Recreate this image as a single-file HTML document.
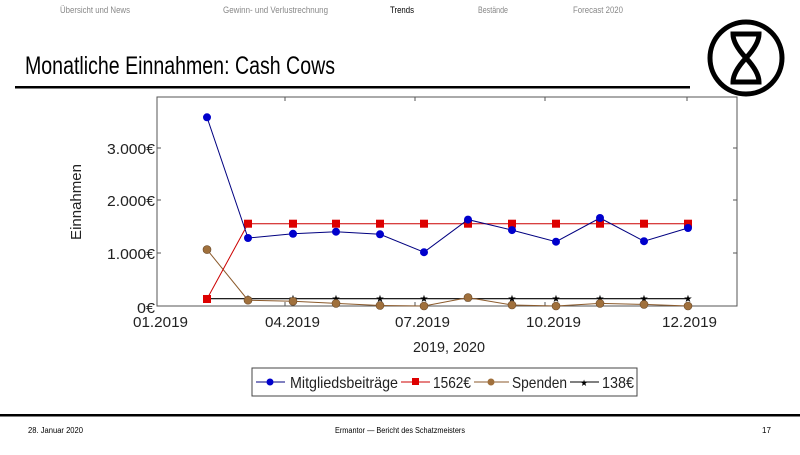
<!DOCTYPE html>
<html><head><meta charset="utf-8"><style>
body{margin:0;width:800px;height:450px;background:#fff;overflow:hidden;font-family:"Liberation Sans",sans-serif}
</style></head><body>
<svg width="800" height="450" viewBox="0 0 800 450" xmlns="http://www.w3.org/2000/svg" font-family="Liberation Sans, sans-serif">
<g font-size="9" fill="#888">
<text x="60" y="13" textLength="70" lengthAdjust="spacingAndGlyphs">Übersicht und News</text>
<text x="223" y="13" textLength="105" lengthAdjust="spacingAndGlyphs">Gewinn- und Verlustrechnung</text>
<text x="390" y="13" fill="#000" textLength="24" lengthAdjust="spacingAndGlyphs">Trends</text>
<text x="478" y="13" textLength="30" lengthAdjust="spacingAndGlyphs">Bestände</text>
<text x="573" y="13" textLength="50" lengthAdjust="spacingAndGlyphs">Forecast 2020</text>
</g>
<text x="25" y="74" font-size="25" fill="#000" textLength="310" lengthAdjust="spacingAndGlyphs">Monatliche Einnahmen: Cash Cows</text>
<rect x="15" y="86" width="675" height="2.5" fill="#000"/>
<circle cx="746" cy="58" r="36" fill="none" stroke="#000" stroke-width="5"/>
<path d="M733 34 L759 34 Q759 44 746 58 Q733 72 733 82 L759 82 Q759 72 746 58 Q733 44 733 34 Z" fill="none" stroke="#000" stroke-width="5"/>
<rect x="157" y="97" width="580" height="209" fill="none" stroke="#555" stroke-width="1"/>
<g stroke="#555" stroke-width="1">
<line x1="285" y1="97" x2="285" y2="101"/><line x1="415" y1="97" x2="415" y2="101"/><line x1="545" y1="97" x2="545" y2="101"/><line x1="687" y1="97" x2="687" y2="101"/>
<line x1="285" y1="306" x2="285" y2="302"/><line x1="415" y1="306" x2="415" y2="302"/><line x1="545" y1="306" x2="545" y2="302"/><line x1="687" y1="306" x2="687" y2="302"/>
<line x1="157" y1="148" x2="161" y2="148"/><line x1="157" y1="200" x2="161" y2="200"/><line x1="157" y1="253" x2="161" y2="253"/>
<line x1="737" y1="148" x2="733" y2="148"/><line x1="737" y1="200" x2="733" y2="200"/><line x1="737" y1="253" x2="733" y2="253"/>
</g>
<g font-size="15" fill="#222" text-anchor="end">
<text x="155" y="154" textLength="48" lengthAdjust="spacingAndGlyphs">3.000€</text><text x="155" y="206" textLength="48" lengthAdjust="spacingAndGlyphs">2.000€</text><text x="155" y="259" textLength="48" lengthAdjust="spacingAndGlyphs">1.000€</text><text x="155" y="313" textLength="18" lengthAdjust="spacingAndGlyphs">0€</text>
</g>
<g font-size="15" fill="#222">
<text x="133" y="327" textLength="55" lengthAdjust="spacingAndGlyphs">01.2019</text><text x="265" y="327" textLength="55" lengthAdjust="spacingAndGlyphs">04.2019</text><text x="395" y="327" textLength="55" lengthAdjust="spacingAndGlyphs">07.2019</text><text x="526" y="327" textLength="55" lengthAdjust="spacingAndGlyphs">10.2019</text><text x="662" y="327" textLength="55" lengthAdjust="spacingAndGlyphs">12.2019</text>
<text x="413" y="352" textLength="72" lengthAdjust="spacingAndGlyphs">2019, 2020</text>
</g>
<text transform="translate(81,202) rotate(-90)" font-size="15" fill="#222" text-anchor="middle">Einnahmen</text>
<polyline fill="none" stroke="#000" stroke-width="1.2" points="207,298.7 688,298.7"/>
<g font-size="10" text-anchor="middle" fill="#000">
<text x="207" y="302">★</text><text x="248" y="302">★</text><text x="293" y="302">★</text><text x="336" y="302">★</text><text x="380" y="302">★</text><text x="424" y="302">★</text><text x="468" y="302">★</text><text x="512" y="302">★</text><text x="556" y="302">★</text><text x="600" y="302">★</text><text x="644" y="302">★</text><text x="688" y="302">★</text>
</g>
<polyline fill="none" stroke="#8b5a2b" stroke-width="1" points="207,249.6 248,300.2 293,301.3 336,303.4 380,305.5 424,306 468,297.6 512,305 556,306 600,303.4 644,304.4 688,306"/>
<g fill="#a0703c" stroke="#6b4a2a" stroke-width="0.6">
<circle cx="207" cy="249.6" r="4"/><circle cx="248" cy="300.2" r="4"/><circle cx="293" cy="301.3" r="4"/><circle cx="336" cy="303.4" r="4"/><circle cx="380" cy="305.5" r="4"/><circle cx="424" cy="306" r="4"/><circle cx="468" cy="297.6" r="4"/><circle cx="512" cy="305" r="4"/><circle cx="556" cy="306" r="4"/><circle cx="600" cy="303.4" r="4"/><circle cx="644" cy="304.4" r="4"/><circle cx="688" cy="306" r="4"/>
</g>
<polyline fill="none" stroke="#cc0000" stroke-width="1" points="207,299 248,223.7 688,223.7"/>
<g fill="#dd0000">
<rect x="203" y="295" width="8" height="8"/><rect x="244" y="219.7" width="8" height="8"/><rect x="289" y="219.7" width="8" height="8"/><rect x="332" y="219.7" width="8" height="8"/><rect x="376" y="219.7" width="8" height="8"/><rect x="420" y="219.7" width="8" height="8"/><rect x="464" y="219.7" width="8" height="8"/><rect x="508" y="219.7" width="8" height="8"/><rect x="552" y="219.7" width="8" height="8"/><rect x="596" y="219.7" width="8" height="8"/><rect x="640" y="219.7" width="8" height="8"/><rect x="684" y="219.7" width="8" height="8"/>
</g>
<polyline fill="none" stroke="#000080" stroke-width="1" points="207,117.3 248,238 293,233.8 336,231.7 380,234.3 424,252.2 468,219.6 512,230.1 556,241.7 600,218 644,241.2 688,228"/>
<g fill="#0000cc">
<circle cx="207" cy="117.3" r="4"/><circle cx="248" cy="238" r="4"/><circle cx="293" cy="233.8" r="4"/><circle cx="336" cy="231.7" r="4"/><circle cx="380" cy="234.3" r="4"/><circle cx="424" cy="252.2" r="4"/><circle cx="468" cy="219.6" r="4"/><circle cx="512" cy="230.1" r="4"/><circle cx="556" cy="241.7" r="4"/><circle cx="600" cy="218" r="4"/><circle cx="644" cy="241.2" r="4"/><circle cx="688" cy="228" r="4"/>
</g>
<rect x="252" y="368" width="385" height="28" fill="#fff" stroke="#444" stroke-width="1"/>
<line x1="256" y1="382" x2="285" y2="382" stroke="#000080"/><circle cx="270" cy="382" r="3.5" fill="#0000cc"/>
<text x="290" y="388" font-size="16" fill="#222" textLength="108" lengthAdjust="spacingAndGlyphs">Mitgliedsbeiträge</text>
<line x1="401" y1="382" x2="430" y2="382" stroke="#cc0000"/><rect x="412" y="378" width="7" height="7" fill="#dd0000"/>
<text x="433" y="388" font-size="16" fill="#222" textLength="38" lengthAdjust="spacingAndGlyphs">1562€</text>
<line x1="474" y1="382" x2="509" y2="382" stroke="#8b5a2b"/><circle cx="491" cy="382" r="3.5" fill="#a0703c"/>
<text x="512" y="388" font-size="16" fill="#222" textLength="55" lengthAdjust="spacingAndGlyphs">Spenden</text>
<line x1="570" y1="382" x2="599" y2="382" stroke="#000"/><text x="584" y="386" font-size="9" text-anchor="middle">★</text>
<text x="602" y="388" font-size="16" fill="#222" textLength="32" lengthAdjust="spacingAndGlyphs">138€</text>
<rect x="0" y="414" width="800" height="2.5" fill="#000"/>
<g font-size="8" fill="#000">
<text x="28" y="433" textLength="55" lengthAdjust="spacingAndGlyphs">28. Januar 2020</text>
<text x="335" y="433" textLength="130" lengthAdjust="spacingAndGlyphs">Ermantor — Bericht des Schatzmeisters</text>
<text x="762" y="433">17</text>
</g>
</svg>
</body></html>
